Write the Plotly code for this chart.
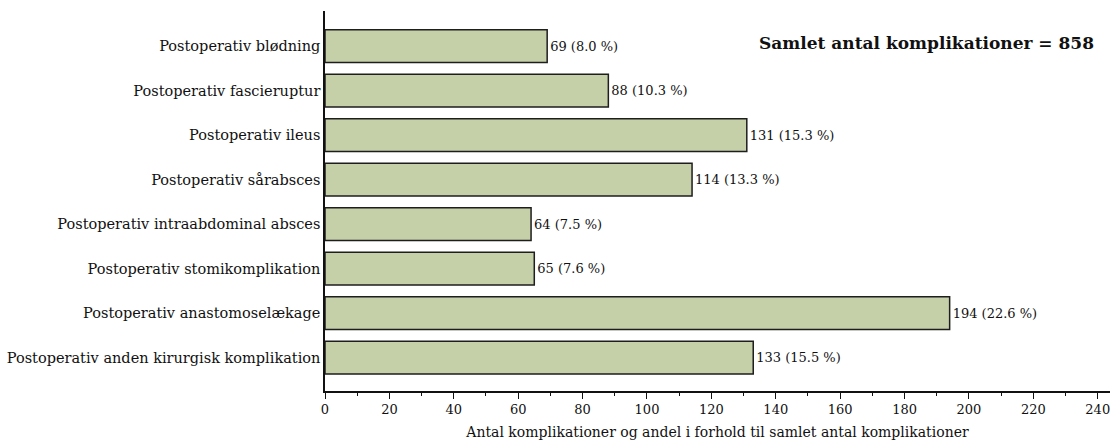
import plotly.graph_objects as go

categories = [
    "Postoperativ blødning",
    "Postoperativ fascieruptur",
    "Postoperativ ileus",
    "Postoperativ sårabsces",
    "Postoperativ intraabdominal absces",
    "Postoperativ stomikomplikation",
    "Postoperativ anastomoselækage",
    "Postoperativ anden kirurgisk komplikation",
]
counts = [69, 88, 131, 114, 64, 65, 194, 133]
percents = ["8.0", "10.3", "15.3", "13.3", "7.5", "7.6", "22.6", "15.5"]
total = 858

labels = [f"{c} ({p} %)" for c, p in zip(counts, percents)]

font_family = "DejaVu Serif"

fig = go.Figure()
fig.add_trace(go.Bar(
    x=counts,
    y=categories,
    orientation="h",
    width=0.74,
    marker=dict(color="#c5cfa8", line=dict(color="#1e1e1e", width=1.5)),
    text=labels,
    textposition="outside",
    cliponaxis=False,
    textfont=dict(family=font_family, size=13, color="#111"),
))

fig.add_annotation(
    text=f"<b>Samlet antal komplikationer = {total}</b>",
    xref="paper", yref="paper", x=0.982, y=0.915,
    xanchor="right", yanchor="middle", showarrow=False,
    font=dict(family=font_family, size=17, color="#111"),
)

fig.update_layout(
    width=1114, height=443,
    margin=dict(l=325, r=4, t=11, b=52),
    plot_bgcolor="white", paper_bgcolor="white",
    showlegend=False,
    font=dict(family=font_family, color="#111"),
    xaxis=dict(
        range=[0, 243.8], dtick=20, tick0=0,
        showgrid=False, zeroline=False,
        showline=True, linecolor="#111", linewidth=1.5,
        ticks="outside", ticklen=6, tickwidth=1.2, tickcolor="#111",
        minor=dict(dtick=10, ticks="outside", ticklen=3, tickwidth=1.2, tickcolor="#111"),
        tickfont=dict(size=13),
        title=dict(text="Antal komplikationer og andel i forhold til samlet antal komplikationer",
                   font=dict(size=14), standoff=11),
    ),
    yaxis=dict(
        categoryorder="array", categoryarray=categories[::-1],
        range=[-0.75, 7.79],
        showgrid=False, zeroline=False,
        showline=True, linecolor="#111", linewidth=1.5,
        ticks="", tickfont=dict(size=14.5),
        ticklabelstandoff=0,
    ),
)

# drop the default page margin so the figure fills the window exactly
fig.write_html("out.html", config={"displayModeBar": False},
               post_script="document.body.style.margin = '0px';")
